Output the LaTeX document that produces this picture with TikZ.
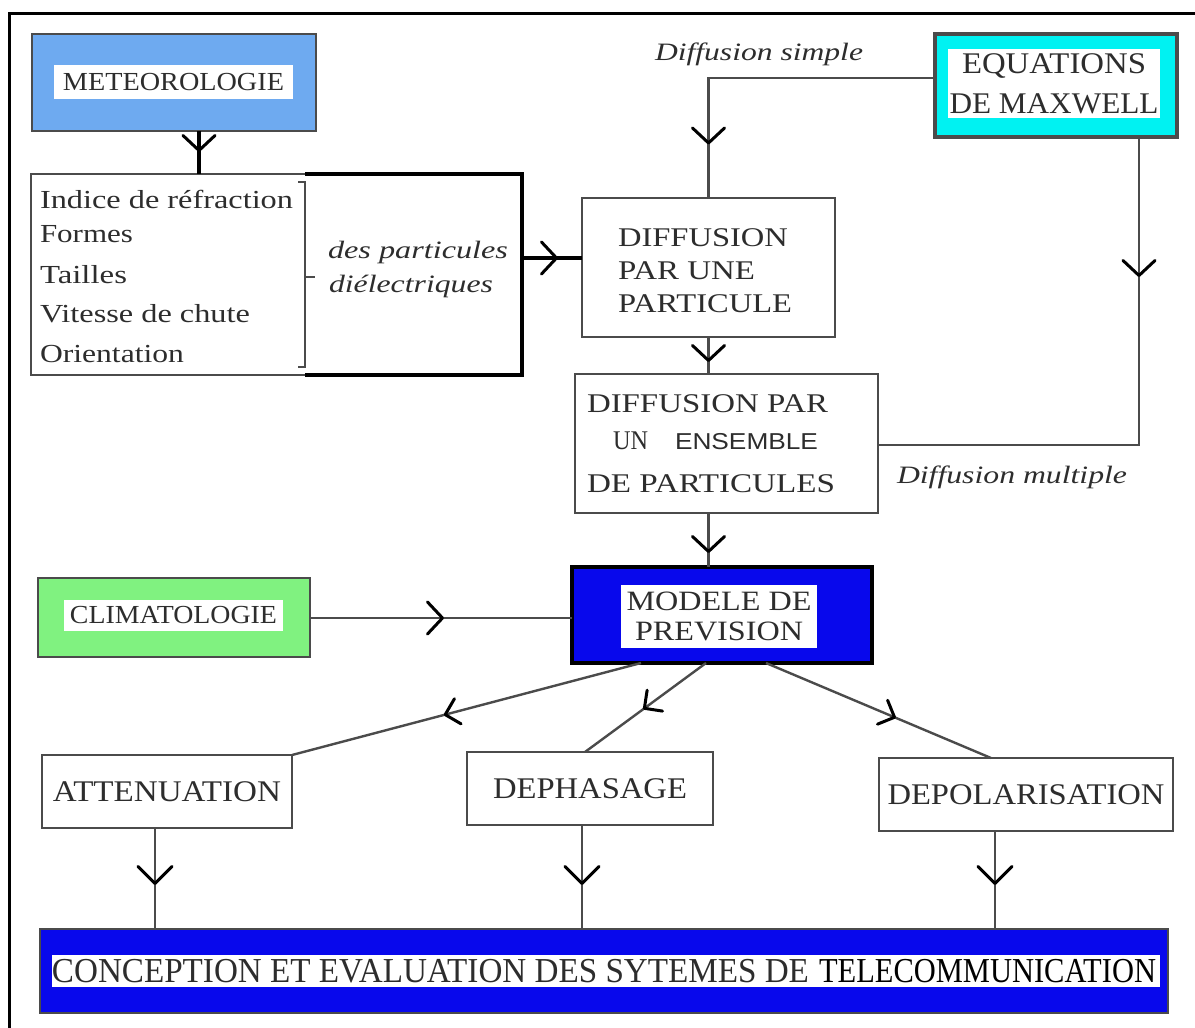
\documentclass[tikz,border=0pt]{standalone}
\usepackage{fontspec}
\usepackage{graphicx}
\setmainfont{Liberation Serif}
\newfontfamily\ari{Liberation Sans}
\usetikzlibrary{arrows.meta,decorations.markings}
\definecolor{meteoblue}{RGB}{110,170,240}
\definecolor{maxcyan}{RGB}{0,242,242}
\definecolor{climgreen}{RGB}{128,242,128}
\definecolor{deepblue}{RGB}{8,8,236}
\definecolor{edgegray}{RGB}{75,75,75}
\definecolor{inkgray}{RGB}{45,45,45}
\newcommand\hfit[2]{\resizebox{#1}{\height}{#2}}
\newcommand\fsz[1]{\fontsize{#1}{#1}\selectfont}
\tikzset{
  cvtip/.tip={Straight Barb[length=15pt,width=32pt,line width=3pt,color=black,round]},
  cvstip/.tip={Straight Barb[length=13pt,width=26pt,line width=3pt,color=black,round]},
  cvbtip/.tip={Straight Barb[length=17pt,width=34pt,line width=3pt,color=black,round]},
  chev/.style={postaction={decorate,decoration={markings,mark=at position #1 with {\arrow{cvtip}}}}},
  chevs/.style={postaction={decorate,decoration={markings,mark=at position #1 with {\arrow{cvstip}}}}},
  chevb/.style={postaction={decorate,decoration={markings,mark=at position #1 with {\arrow{cvbtip}}}}},
  box/.style={draw=edgegray,line width=2.4pt,inner sep=0pt,outer sep=0pt,anchor=north west,text=inkgray},
  ghost/.style={inner sep=0pt,outer sep=0pt,anchor=north west},
  lab/.style={fill=white,inner sep=0pt,outer sep=0pt,text=inkgray,align=center},
  txt/.style={inner sep=0pt,outer sep=0pt,text=inkgray,anchor=base west},
  conn/.style={draw=edgegray,line width=2.4pt},
  bconn/.style={draw=black,line width=3.4pt},
}
\begin{document}
\begin{tikzpicture}[x=1pt,y=-1pt]
\fill[white] (0,0) rectangle (1195,1028);
\useasboundingbox (0,0) rectangle (1195,1028);
% frame
\draw[black,line width=3pt] (1195,13) -- (9,13) -- (9,1028);

% METEOROLOGIE
\node[box,fill=meteoblue,minimum width=284pt,minimum height=97pt] (meteo) at (32,34) {};
\node[lab,minimum width=239pt,minimum height=34pt] (meteol) at (173.5,82) {\fsz{26}\hfit{221pt}{METEOROLOGIE}};

% properties list
\node[ghost,minimum width=274pt,minimum height=201pt] (props) at (31,174) {};
\draw[conn] (props.north east) -- (props.north west) -- (props.south west) -- (props.south east);
\node[txt] (l1) at (40,208) {\fsz{26}\hfit{253pt}{Indice de réfraction}};
\node[txt] (l2) at (40,242) {\fsz{26}\hfit{93pt}{Formes}};
\node[txt] (l3) at (40,283) {\fsz{26}\hfit{87pt}{Tailles}};
\node[txt] (l4) at (40,322) {\fsz{26}\hfit{210pt}{Vitesse de chute}};
\node[txt] (l5) at (40,362) {\fsz{26}\hfit{144pt}{Orientation}};
\draw[edgegray,line width=1.6pt] (298,182) -- (305,182) -- (305,367) -- (298,367);
\draw[edgegray,line width=1.6pt] (305,277) -- (315,277);

% dielectric frame
\node[ghost,minimum width=217pt,minimum height=201pt] (dielec) at (305,174) {};
\draw[black,line width=4pt] (dielec.north west) -- (dielec.north east) -- (dielec.south east) -- (dielec.south west);
\node[txt] (d1) at (328,258) {\itshape\fsz{25}\hfit{180pt}{des particules}};
\node[txt] (d2) at (329,292) {\itshape\fsz{25}\hfit{164pt}{diélectriques}};

% DIFFUSION PAR UNE PARTICULE
\node[box,minimum width=253pt,minimum height=139pt] (part1) at (582,198) {};
\node[txt] (p1) at (618,246) {\fsz{27}\hfit{170pt}{DIFFUSION}};
\node[txt] (p2) at (618,279) {\fsz{27}\hfit{137pt}{PAR UNE}};
\node[txt] (p3) at (618,312) {\fsz{27}\hfit{174pt}{PARTICULE}};

% EQUATIONS DE MAXWELL
\node[box,line width=3.4pt,fill=maxcyan,minimum width=242pt,minimum height=103pt] (maxwell) at (935,34) {};
\node[lab,minimum width=212pt,minimum height=69pt,font=\fontsize{30}{40}\selectfont] (maxwelll) at (1054,83.5) {\hfit{184pt}{EQUATIONS}\\\hfit{209pt}{DE MAXWELL}};

\node[txt] (dsimple) at (655,60) {\itshape\fsz{25}\hfit{208pt}{Diffusion simple}};

% DIFFUSION PAR UN ENSEMBLE
\node[box,minimum width=303pt,minimum height=139pt] (ensemble) at (575,374) {};
\node[txt] (e1) at (587,412) {\fsz{27}\hfit{241pt}{DIFFUSION PAR}};
\node[txt] (e2) at (613,449) {\fsz{27}\hfit{35pt}{UN}\hspace{27pt}{\ari\fsz{23}\hfit{143pt}{ENSEMBLE}}};
\node[txt] (e3) at (587,492) {\fsz{27}\hfit{248pt}{DE PARTICULES}};

\node[txt] (dmult) at (897,483) {\itshape\fsz{25}\hfit{230pt}{Diffusion multiple}};

% MODELE DE PREVISION
\node[box,draw=black,line width=3.4pt,fill=deepblue,minimum width=300pt,minimum height=96pt] (modele) at (572,567) {};
\node[lab,minimum width=196pt,minimum height=63pt,font=\fontsize{28}{30}\selectfont] (modelel) at (719,616.5) {\hfit{185pt}{MODELE DE}\\\hfit{168pt}{PREVISION}};

% CLIMATOLOGIE
\node[box,fill=climgreen,minimum width=272pt,minimum height=79pt] (clim) at (38,578) {};
\node[lab,minimum width=219pt,minimum height=31pt] (climl) at (173.5,615.5) {\fsz{26}\hfit{207pt}{CLIMATOLOGIE}};

% three effects
\node[box,minimum width=250pt,minimum height=73pt] (attn) at (42,755) {\fsz{30}\hfit{228pt}{ATTENUATION}};
\node[box,minimum width=246pt,minimum height=73pt] (deph) at (467,752) {\fsz{30}\hfit{194pt}{DEPHASAGE}};
\node[box,minimum width=294pt,minimum height=73pt] (depol) at (879,758) {\fsz{30}\hfit{277pt}{DEPOLARISATION}};

% bottom box
\node[box,fill=deepblue,minimum width=1128pt,minimum height=84pt] (concl) at (40,929) {};
\node[lab,minimum width=1108pt,minimum height=32pt] (concll) at (606,971) {\fsz{35}\hspace{-4pt}\hfit{757pt}{CONCEPTION ET EVALUATION DES SYTEMES DE}\hspace{10pt}\textcolor{black}{\hfit{337pt}{TELECOMMUNICATION}}};

% connectors
\draw[bconn,chev=21pt] (meteo.south -| 199,0) -- (props.north -| 199,0);
\draw[bconn,chev=36pt] (dielec.east |- 0,258) -- (part1.west |- 0,258);
\draw[conn,chev=293pt] (maxwell.west |- 0,78) -| (part1.north);
\draw[conn,chev=140pt] (maxwell.south -| 1139,0) |- (ensemble.east |- 0,445);
\draw[conn,chev=25pt] (part1.south) -- (part1.south |- ensemble.north);
\draw[conn,chev=40pt] (part1.south |- ensemble.south) -- (part1.south |- modele.north);
\draw[conn,chev=134pt] (clim.east |- 0,618) -- (modele.west |- 0,618);

\coordinate (mA) at ([xshift=-81pt]modele.south);
\coordinate (mB) at ([xshift=-16pt]modele.south);
\coordinate (mC) at ([xshift=44pt]modele.south);
\draw[conn,chevs=204pt] (mA) -- (attn.north east);
\draw[conn,chevs=78pt] (mB) -- ([xshift=-5pt]deph.north);
\draw[conn,chevs=141pt] (mC) -- ([xshift=-35pt]depol.north);

\coordinate (aB) at ([xshift=-12pt]attn.south);
\coordinate (dB) at ([xshift=-8pt]deph.south);
\coordinate (pB) at ([xshift=-31pt]depol.south);
\draw[conn,chevb=57pt] (aB) -- (aB |- concl.north);
\draw[conn,chevb=60pt] (dB) -- (dB |- concl.north);
\draw[conn,chevb=54pt] (pB) -- (pB |- concl.north);
\end{tikzpicture}
\end{document}
